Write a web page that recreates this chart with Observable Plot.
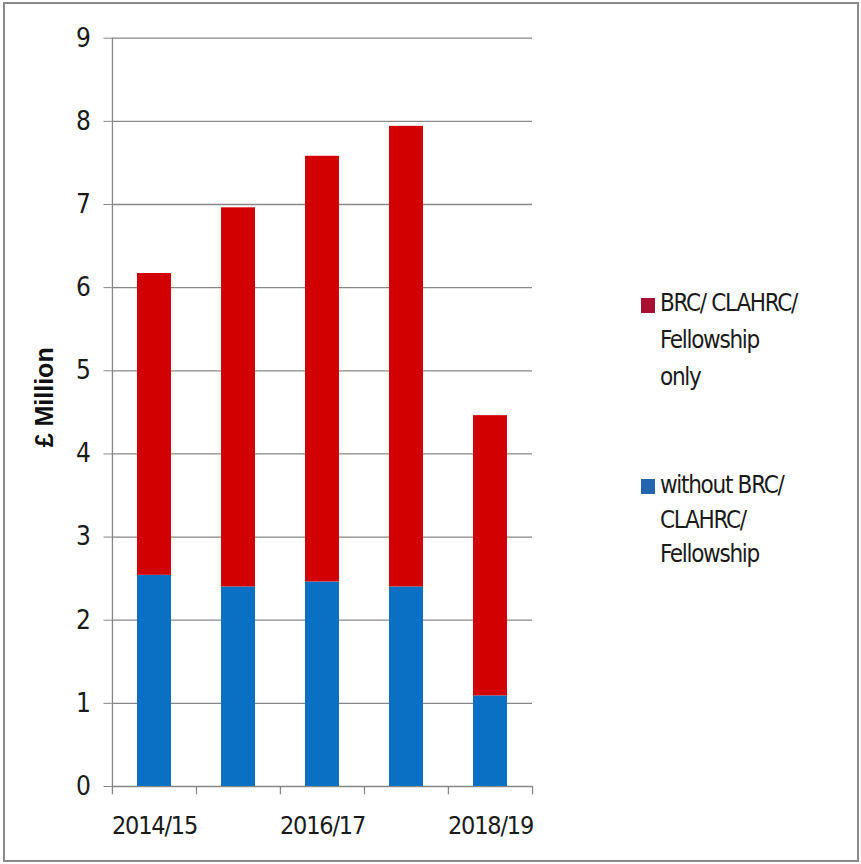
<!DOCTYPE html>
<html>
<head>
<meta charset="utf-8">
<script src="https://cdn.jsdelivr.net/npm/d3@7"></script>
<script src="https://cdn.jsdelivr.net/npm/@observablehq/plot@0.6"></script>
<style>
  html, body { margin: 0; padding: 0; background: #fff; }
  #wrap { position: relative; width: 861px; height: 864px; overflow: hidden; background: #fff; }
  #border { position: absolute; left: 3px; top: 2px; width: 852px; height: 856px; border: 2px solid #8a8a8a; pointer-events: none; }
  #chart { position: absolute; left: 0; top: 0; }
  .leg { position: absolute; left: 641px; font-family: "DejaVu Sans Condensed", sans-serif; font-size: 24px; letter-spacing: -1.3px; color: #1a1a1a; }
  .leg .sw { position: absolute; left: 0; width: 14px; height: 15px; }
  .leg .tx { position: absolute; left: 19px; width: 170px; white-space: nowrap; }
</style>
</head>
<body>
<div id="wrap">
  <div id="chart"></div>
  <div id="legend"></div>
  <div id="border"></div>
</div>
<script>
// ---- data ----
const categories = ["2014/15", "2015/16", "2016/17", "2017/18", "2018/19"];
const xTickLabels = ["2014/15", "2016/17", "2018/19"];
const seriesNames = ["without BRC/ CLAHRC/ Fellowship", "BRC/ CLAHRC/ Fellowship only"];
const withoutBRC = [2.54, 2.40, 2.46, 2.40, 1.09];
const brcOnly = [3.63, 4.56, 5.12, 5.54, 3.37];
const yTicks = [0, 1, 2, 3, 4, 5, 6, 7, 8, 9];
const yLabel = "£ Million";
const legendLines = [
  ["BRC/ CLAHRC/", "Fellowship", "only"],
  ["without BRC/", "CLAHRC/", "Fellowship"]
];

// ---- styles ----
const barColors = ["#0a70c4", "#d20000"];
const swatchColors = ["#a80f30", "#2464ac"];
const gridColor = "#878787";
const font = '"DejaVu Sans Condensed", sans-serif';

const W = 861, H = 864;
const mL = 111.5, mR = 329, mT = 37.7, mB = 78;
const step = (W - mL - mR) / categories.length;

const data = [];
categories.forEach((c, i) => {
  data.push({year: c, series: seriesNames[0], value: withoutBRC[i]});
  data.push({year: c, series: seriesNames[1], value: brcOnly[i]});
});

const chart = Plot.plot({
  width: W, height: H,
  marginLeft: mL, marginRight: mR, marginTop: mT, marginBottom: mB,
  style: {fontFamily: font, fontSize: "26px", color: "#1a1a1a", background: "transparent"},
  x: {type: "band", domain: categories, paddingInner: 0.6, paddingOuter: 0.3, axis: null},
  y: {domain: [0, 9], axis: null},
  color: {domain: seriesNames, range: barColors},
  marks: [
    Plot.ruleY(yTicks, {y: d => d, stroke: gridColor, strokeWidth: 1.3}),
    Plot.barY(data, {x: "year", y: "value", fill: "series", order: seriesNames}),
    // y axis line
    Plot.ruleX([categories[0]], {x: d => d, dx: -step / 2, y1: 0, y2: 9, stroke: gridColor, strokeWidth: 1.3}),
    // category boundary ticks below the baseline
    Plot.ruleX(categories, {x: d => d, dx: -step / 2, y1: 0, y2: -0.1, stroke: gridColor, strokeWidth: 1.3}),
    Plot.ruleX([categories[categories.length - 1]], {x: d => d, dx: step / 2, y1: 0, y2: -0.1, stroke: gridColor, strokeWidth: 1.3}),
    Plot.axisY({ticks: yTicks, tickSize: 8, tickPadding: 13, fontSize: 26, stroke: gridColor, label: null}),
    Plot.axisX({ticks: xTickLabels, tickSize: 0, tickPadding: 30, fontSize: 25, label: null}),
    Plot.text([yLabel], {frameAnchor: "left", textAnchor: "middle", rotate: -90, dx: -67, dy: -15, fontWeight: "bold", fontSize: 25, fill: "#111", fontFamily: "Liberation Sans, Arial, sans-serif"})
  ]
});
chart.querySelectorAll("g[aria-label='x-axis tick label'] text").forEach(t => t.setAttribute("letter-spacing", "-1.2"));
document.getElementById("chart").appendChild(chart);

// ---- legend ----
const legend = document.getElementById("legend");
const legTops = [285, 468];
const legLineH = [37, 34.5];
legendLines.forEach((lines, k) => {
  const item = document.createElement("div");
  item.className = "leg";
  item.style.top = legTops[k] + "px";
  const sw = document.createElement("div");
  sw.className = "sw";
  sw.style.background = swatchColors[k];
  sw.style.top = (legLineH[k] / 2 - 6) + "px";
  const tx = document.createElement("div");
  tx.className = "tx";
  tx.style.lineHeight = legLineH[k] + "px";
  tx.innerHTML = lines.join("<br>");
  item.appendChild(sw);
  item.appendChild(tx);
  legend.appendChild(item);
});
</script>
</body>
</html>
